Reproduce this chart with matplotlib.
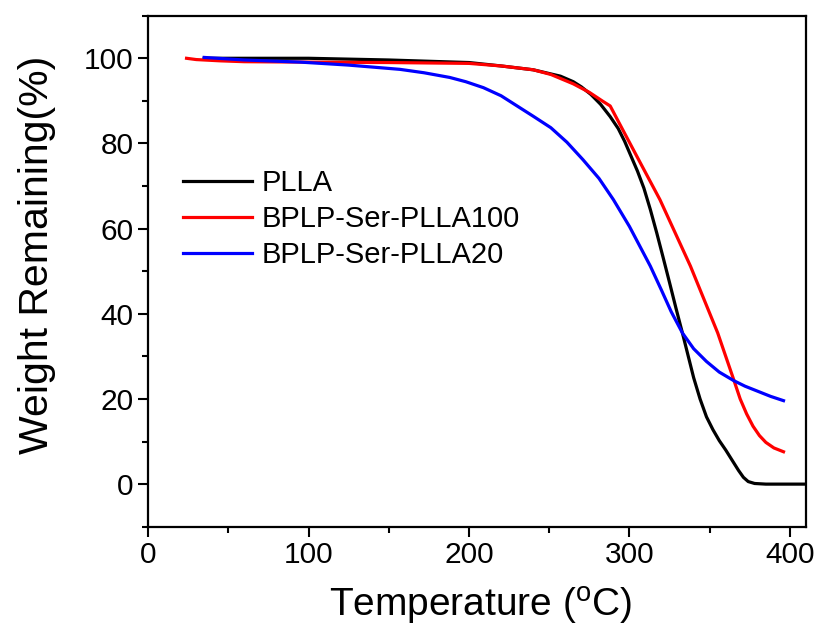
import matplotlib
matplotlib.use("Agg")
import matplotlib.pyplot as plt
from matplotlib.ticker import MultipleLocator

plt.rcParams['font.family'] = ['Liberation Sans', 'DejaVu Sans']
plt.rcParams['mathtext.fontset'] = 'custom'
plt.rcParams['mathtext.rm'] = 'Liberation Sans'

# PLLA
t_plla = [35, 60, 100, 150, 200, 220, 240, 257, 265, 270, 276, 282, 288, 293, 297, 301, 305, 309, 313, 317, 321, 325, 329, 333,
          340, 344, 348, 352, 356, 360, 364, 368, 371, 374, 378, 385, 410]
w_plla = [100, 100, 100, 99.6, 99, 98.2, 97.3, 95.8, 94.5, 93.3, 91.5, 89.2, 86.3, 83.5, 80.5, 77, 73.5, 69.5, 64.5, 59, 53.2, 47.3, 41.3, 35.5,
          25, 20, 15.8, 12.8, 10.2, 8.0, 5.6, 3.2, 1.6, 0.6, 0.15, 0, 0]

# BPLP-Ser-PLLA100
t_100 = [24, 30, 45, 60, 100, 150, 200, 220, 240, 251, 265, 275, 283, 288, 295, 305, 319, 338, 355, 360, 365, 369, 373, 377, 381, 385, 390, 396]
w_100 = [100, 99.7, 99.4, 99.2, 99.1, 99.0, 98.8, 98.2, 97.3, 96.2, 94, 92, 90, 88.8, 83.8, 76.7, 66.8, 51.2, 35.5, 30, 24.5, 20, 16.5, 13.6, 11.4, 9.8, 8.5, 7.6]

# BPLP-Ser-PLLA20
t_20 = [35, 60, 95, 125, 157, 172, 188, 198, 209, 220, 230, 240, 251, 261, 271, 281, 290, 300, 313, 320, 326, 333, 340, 348, 356, 365, 372, 380, 388, 396]
w_20 = [100.2, 99.6, 99.1, 98.4, 97.4, 96.6, 95.5, 94.5, 93.1, 91.2, 88.8, 86.4, 83.7, 80.3, 76.2, 71.8, 66.8, 60.5, 51.2, 45.5, 40.5, 35.5, 31.8, 28.8, 26.3, 24.3, 23, 21.8, 20.6, 19.6]

fig = plt.figure(figsize=(8.17, 6.28), dpi=100)
ax = fig.add_axes([0.1812, 0.1613, 0.8053, 0.8137])

lw = 2.3
ax.plot(t_plla, w_plla, color='black', lw=lw, label='PLLA')
ax.plot(t_100, w_100, color='#ff0000', lw=lw, label='BPLP-Ser-PLLA100')
ax.plot(t_20, w_20, color='#0000ff', lw=lw, label='BPLP-Ser-PLLA20')

ax.set_xlim(0, 410)
ax.set_ylim(-10, 110)
ax.xaxis.set_major_locator(MultipleLocator(100))
ax.xaxis.set_minor_locator(MultipleLocator(50))
ax.yaxis.set_major_locator(MultipleLocator(20))
ax.yaxis.set_minor_locator(MultipleLocator(10))
ax.tick_params(which='both', direction='out', top=False, right=False, width=1.5, labelsize=21.5)
ax.tick_params(which='major', length=7)
ax.tick_params(which='minor', length=4)
for s in ax.spines.values():
    s.set_linewidth(1.6)

ax.set_xlabel('Temperature ($^\\mathrm{o}$C)', fontsize=28)
ax.xaxis.label.set_va('baseline')
ax.xaxis.set_label_coords(0.505, -0.177)
ax.set_ylabel('Weight Remaining(%)', fontsize=29.5)
ax.yaxis.set_label_coords(-0.14, 0.532)

ax.legend(loc='upper left', bbox_to_anchor=(0.053, 0.700), frameon=False, fontsize=21,
          handlelength=2.36, handletextpad=0.34, labelspacing=0.27, borderaxespad=0, borderpad=0)

fig.savefig('out.png', dpi=100)
